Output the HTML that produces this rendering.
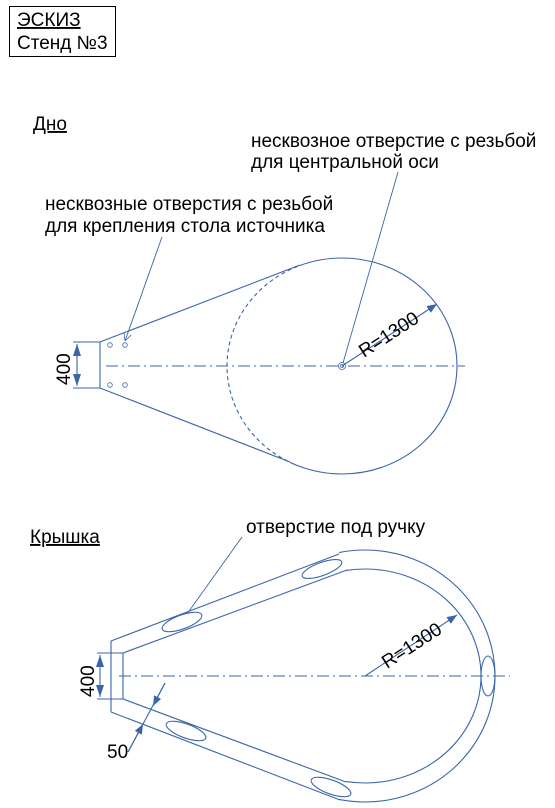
<!DOCTYPE html>
<html><head><meta charset="utf-8"><style>
html,body{margin:0;padding:0;background:#fff;width:555px;height:808px;overflow:hidden}
svg text{font-family:"Liberation Sans",sans-serif;fill:#000}
</style></head><body>
<svg width="555" height="808" viewBox="0 0 555 808" xmlns="http://www.w3.org/2000/svg">
<defs>
<marker id="ah" markerWidth="10" markerHeight="8" refX="10" refY="4" orient="auto" markerUnits="userSpaceOnUse"><path d="M0,0 L10,4 L0,8 Z" fill="#3a66a8"/></marker>
<marker id="ah2" markerWidth="12" markerHeight="8" refX="12" refY="4" orient="auto-start-reverse" markerUnits="userSpaceOnUse"><path d="M0,0 L12,4 L0,8 Z" fill="#3a66a8"/></marker>
<marker id="oa" markerWidth="8" markerHeight="8" refX="8" refY="4" orient="auto" markerUnits="userSpaceOnUse"><path d="M0,0 L8,4 L0,8" fill="none" stroke="#3a66a8" stroke-width="0.8"/></marker>
<clipPath id="cr1"><polygon points="300,0 555,0 555,808 290,808 290,462 300,265"/></clipPath>
<clipPath id="cl1"><polygon points="0,0 300,0 300,265 290,462 290,808 0,808"/></clipPath>
<clipPath id="cr2"><rect x="339" y="0" width="300" height="808"/></clipPath>
<clipPath id="cr3"><rect x="346" y="0" width="300" height="808"/></clipPath>
</defs>
<rect x="9.5" y="6.5" width="106" height="50" fill="none" stroke="#000" stroke-width="1"/>
<text x="17" y="26" font-size="19" text-decoration="underline">ЭСКИЗ</text>
<text x="17" y="49" font-size="19">Стенд №3</text>
<text x="33" y="130" font-size="19" text-decoration="underline">Дно</text>
<text x="251" y="147" font-size="19">несквозное отверстие с резьбой</text>
<text x="251" y="168" font-size="19">для центральной оси</text>
<text x="45" y="210" font-size="19">несквозные отверстия с резьбой</text>
<text x="45" y="232" font-size="19">для крепления стола источника</text>
<text x="30" y="543" font-size="19" text-decoration="underline">Крышка</text>
<text x="246" y="533" font-size="19">отверстие под ручку</text>

<g stroke="#3a66a8" fill="none" stroke-width="1.1">
<ellipse cx="342" cy="366" rx="115" ry="108" clip-path="url(#cr1)"/>
<ellipse cx="342" cy="366" rx="115" ry="108" clip-path="url(#cl1)" stroke-dasharray="4,3"/>
<line x1="100" y1="342" x2="300" y2="265"/>
<line x1="100" y1="388" x2="290" y2="462"/>
<line x1="100" y1="342" x2="100" y2="388"/>
<line x1="73" y1="342" x2="100" y2="342"/>
<line x1="73" y1="388" x2="100" y2="388"/>
<line x1="77" y1="344" x2="77" y2="386" marker-start="url(#ah2)" marker-end="url(#ah2)"/>
<line x1="106" y1="366" x2="465" y2="366" stroke-dasharray="12,4,2,4" stroke-width="0.9"/>
<circle cx="110" cy="345" r="2.3" stroke-width="0.8"/>
<circle cx="125" cy="345" r="2.3" stroke-width="0.8"/>
<circle cx="110" cy="385" r="2.3" stroke-width="0.8"/>
<circle cx="125" cy="385" r="2.3" stroke-width="0.8"/>
<circle cx="342" cy="366" r="3.5" stroke-width="0.8"/>
<circle cx="342" cy="366" r="1.5" stroke-width="0.8"/>
<line x1="342" y1="366" x2="437" y2="304" marker-end="url(#ah)"/>
<line x1="398" y1="172" x2="343" y2="363" stroke-width="0.9"/>
<line x1="162" y1="237" x2="125" y2="341" stroke-width="0.9" marker-end="url(#oa)"/>

<ellipse cx="365" cy="676" rx="130" ry="126" clip-path="url(#cr2)"/>
<ellipse cx="365" cy="676" rx="116" ry="107" clip-path="url(#cr3)"/>
<line x1="111" y1="641" x2="339" y2="554"/>
<line x1="111" y1="712" x2="340" y2="800"/>
<line x1="111" y1="641" x2="111" y2="712"/>
<line x1="123" y1="653" x2="347" y2="570"/>
<line x1="123" y1="699" x2="346" y2="782"/>
<line x1="123" y1="653" x2="123" y2="699"/>
<line x1="97" y1="653" x2="123" y2="653"/>
<line x1="97" y1="699" x2="123" y2="699"/>
<line x1="100" y1="655" x2="100" y2="697" marker-start="url(#ah2)" marker-end="url(#ah2)"/>
<line x1="119" y1="676" x2="510" y2="676" stroke-dasharray="12,4,2,4" stroke-width="0.9"/>
<ellipse cx="182" cy="622" rx="21" ry="7" transform="rotate(-20 182 622)"/>
<ellipse cx="322" cy="569" rx="21" ry="6.5" transform="rotate(-20 322 569)"/>
<ellipse cx="186" cy="731" rx="21" ry="7" transform="rotate(20 186 731)"/>
<ellipse cx="331" cy="787" rx="21" ry="7" transform="rotate(20 331 787)"/>
<ellipse cx="488" cy="676" rx="7" ry="20"/>
<line x1="365" y1="676" x2="457" y2="615" marker-end="url(#ah)"/>
<line x1="242" y1="537" x2="187" y2="614" stroke-width="0.9"/>
<line x1="128" y1="752" x2="165" y2="683"/>
<line x1="128" y1="752" x2="143" y2="724" marker-end="url(#ah)"/>
<line x1="165" y1="683" x2="153" y2="706" marker-end="url(#ah)"/>
</g>
<text x="0" y="0" font-size="19" transform="translate(70,385) rotate(-90)">400</text>
<text x="0" y="0" font-size="19" transform="translate(94,697) rotate(-90)">400</text>
<text x="0" y="0" font-size="19" transform="translate(364,358) rotate(-33)">R=1300</text>
<text x="0" y="0" font-size="19" transform="translate(387,669) rotate(-33)">R=1300</text>
<text x="107" y="758" font-size="19">50</text>
</svg>
</body></html>
